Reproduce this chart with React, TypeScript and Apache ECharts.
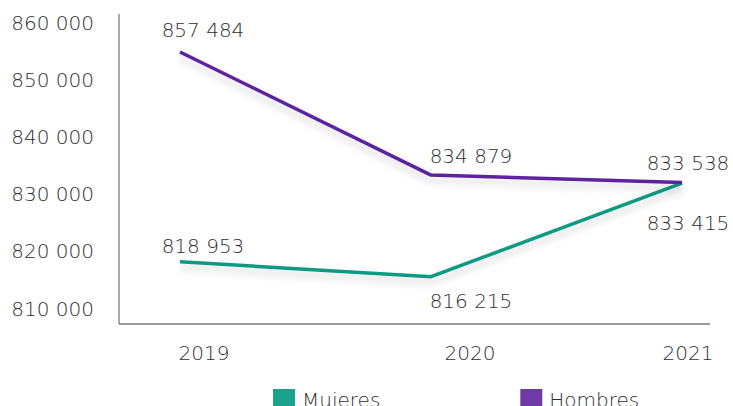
import React, { useEffect, useRef } from "react";
import * as echarts from "echarts";

const years = ["2019", "2020", "2021"];
const mujeres = [818953, 816215, 833415];
const hombres = [857484, 834879, 833538];
const yTicks = [810000, 860000, 10000]; // min, max, interval

const FONT = "'DejaVu Sans', 'Liberation Sans', sans-serif";
const FW = 300;
const FS = 20;
const TXT = "#2e2e2e";

const fmt = (v: number) => {
  const s = String(Math.round(v));
  return s.replace(/\B(?=(\d{3})+(?!\d))/g, " ");
};

// label offsets (styling), per category index
const hOff = [[23, -22], [40, -19], [6, -19]];
const mOff = [[23, -16], [40, 24], [6, 40]];
const xPad = [48, 78, 12];

export default function App() {
  const ref = useRef<HTMLDivElement>(null);
  useEffect(() => {
    if (!ref.current) return;
    const chart = echarts.init(ref.current, undefined, { renderer: "svg" });
    const mk = (vals: number[], offs: number[][]) =>
      vals.map((v, i) => ({
        value: v,
        label: { offset: offs[i] },
      }));
    const labelStyle = {
      show: true,
      position: "inside",
      formatter: (p: any) => fmt(p.value),
      fontFamily: FONT,
      fontWeight: FW,
      fontSize: FS,
      color: TXT,
    };
    const rt = { fontSize: FS, fontFamily: FONT, fontWeight: FW, color: TXT };
    chart.setOption({
      animation: false,
      backgroundColor: "#ffffff",
      textStyle: { fontFamily: FONT },
      grid: { left: 180, right: 51, top: 22.5, bottom: 406 - 308.5 },
      legend: {
        data: ["Mujeres", "Hombres"],
        left: 268,
        top: 384,
        icon: "rect",
        itemWidth: 22,
        itemHeight: 22,
        itemGap: 140,
        textStyle: { ...rt, padding: [0, 0, 0, 2] },
      },
      xAxis: {
        type: "category",
        data: years,
        boundaryGap: false,
        axisLine: { show: false },
        axisTick: { show: false },
        axisLabel: {
          margin: 34,
          formatter: (v: string) => {
            const i = years.indexOf(v);
            return `{p${i}|${v}}`;
          },
          rich: {
            p0: { ...rt, padding: [0, 0, 0, xPad[0]] },
            p1: { ...rt, padding: [0, 0, 0, xPad[1]] },
            p2: { ...rt, padding: [0, 0, 0, xPad[2]] },
          },
        },
        splitLine: { show: false },
      },
      yAxis: [
        {
          type: "value",
          min: yTicks[0],
          max: yTicks[1],
          interval: yTicks[2],
          axisLine: { show: false },
          axisTick: { show: false },
          splitLine: { show: false },
          axisLabel: {
            ...rt,
            margin: 86,
            formatter: (v: number) => fmt(v),
          },
        },
        {
          type: "value",
          min: 810375,
          max: 862900,
          show: false,
          splitLine: { show: false },
        },
      ],
      graphic: [
        {
          type: "line",
          shape: { x1: 119, y1: 14, x2: 119, y2: 324 },
          style: { stroke: "#7a7a7a", lineWidth: 1.3 },
          silent: true,
        },
        {
          type: "line",
          shape: { x1: 119, y1: 324, x2: 710, y2: 324 },
          style: { stroke: "#7a7a7a", lineWidth: 1.3 },
          silent: true,
        },
      ],
      series: [
        {
          name: "Mujeres",
          type: "line",
          yAxisIndex: 1,
          data: mk(mujeres, mOff),
          symbol: "circle",
          symbolSize: 0,
          color: "#1aa38c",
          lineStyle: {
            color: "#0f9a80",
            width: 3.5,
            shadowColor: "rgba(0,0,0,0.18)",
            shadowBlur: 8,
            shadowOffsetY: 5,
          },
          label: labelStyle,
        },
        {
          name: "Hombres",
          type: "line",
          yAxisIndex: 1,
          data: mk(hombres, hOff),
          symbol: "circle",
          symbolSize: 0,
          color: "#6e3aa8",
          lineStyle: {
            color: "#5b22a0",
            width: 3.5,
            shadowColor: "rgba(0,0,0,0.18)",
            shadowBlur: 8,
            shadowOffsetY: 5,
          },
          label: labelStyle,
        },
      ],
    });
    return () => chart.dispose();
  }, []);
  return <div ref={ref} style={{ width: 733, height: 406, position: "absolute", left: 0, top: 0 }} />;
}
